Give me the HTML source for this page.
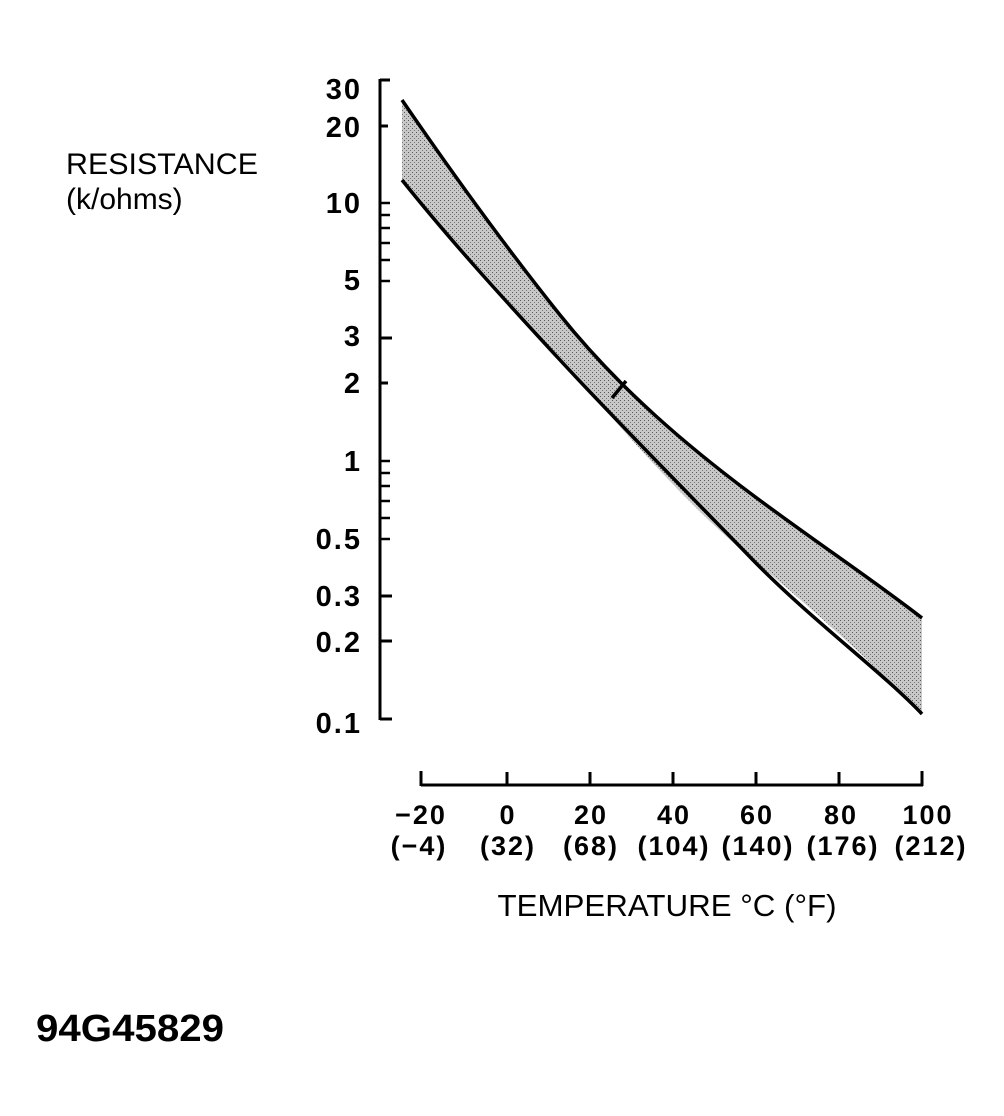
<!DOCTYPE html>
<html><head><style>
html,body{margin:0;padding:0;background:#fff;}
svg{display:block;}
text{font-family:"Liberation Sans",sans-serif;fill:#000;}
</style></head><body>
<svg width="1004" height="1116" viewBox="0 0 1004 1116">
<defs>
<pattern id="st" width="4" height="4" patternUnits="userSpaceOnUse">
<rect width="4" height="4" fill="#c8c8c8"/>
<rect x="0" y="0" width="1" height="1" fill="#555"/>
<rect x="2" y="2" width="1" height="1" fill="#777"/>
</pattern>
</defs>
<g stroke="#000" stroke-width="3" fill="none">
<line x1="380" y1="79" x2="380" y2="720"/>
<line x1="380" y1="80" x2="390" y2="80"/>
<line x1="380" y1="719" x2="392" y2="719"/>
<line x1="380" y1="126" x2="388" y2="126"/>
<line x1="380" y1="383" x2="388" y2="383"/>
<line x1="380" y1="338" x2="392" y2="338"/>
<line x1="380" y1="596" x2="392" y2="596"/>
<line x1="380" y1="641" x2="392" y2="641"/>
</g>
<g stroke="#000" stroke-width="2.5">
<line x1="380" y1="203" x2="390" y2="203"/>
<line x1="380" y1="215" x2="390" y2="215"/>
<line x1="380" y1="228" x2="390" y2="228"/>
<line x1="380" y1="243" x2="390" y2="243"/>
<line x1="380" y1="260" x2="390" y2="260"/>
<line x1="380" y1="281" x2="390" y2="281"/>
<line x1="380" y1="461" x2="390" y2="461"/>
<line x1="380" y1="473" x2="390" y2="473"/>
<line x1="380" y1="486" x2="390" y2="486"/>
<line x1="380" y1="501" x2="390" y2="501"/>
<line x1="380" y1="518" x2="390" y2="518"/>
<line x1="380" y1="539" x2="390" y2="539"/>
</g>
<g font-size="29" text-anchor="end" font-weight="bold" letter-spacing="2">
<text x="362" y="99">30</text>
<text x="362" y="137">20</text>
<text x="362" y="213">10</text>
<text x="362" y="290">5</text>
<text x="362" y="346">3</text>
<text x="362" y="393">2</text>
<text x="362" y="471">1</text>
<text x="362" y="549">0.5</text>
<text x="362" y="606">0.3</text>
<text x="362" y="652">0.2</text>
<text x="362" y="733">0.1</text>
</g>
<text x="66" y="174" font-size="30" textLength="192" lengthAdjust="spacingAndGlyphs">RESISTANCE</text>
<text x="66" y="209" font-size="30">(k/ohms)</text>
<path d="M402,100 C450,170 500,240 560,315 S690,448 750,493 S880,585 922,618 L922,714 C880,670 820,615 750,557 S620,425 560,360 S450,240 402,180 Z" fill="url(#st)"/>
<g stroke="#000" stroke-width="3.5" fill="none">
<path d="M402,100 C450,170 500,240 560,315 S690,448 750,493 S880,585 922,618"/>
<path d="M402,180 C450,240 500,295 560,360 S690,495 750,557 S880,670 922,714"/>
<line x1="612" y1="398" x2="626" y2="381"/>
</g>
<g stroke="#000" stroke-width="3">
<line x1="421" y1="785" x2="923" y2="785"/>
<line x1="421" y1="771" x2="421" y2="786"/>
<line x1="507" y1="772" x2="507" y2="786"/>
<line x1="590" y1="772" x2="590" y2="786"/>
<line x1="673" y1="772" x2="673" y2="786"/>
<line x1="756" y1="772" x2="756" y2="786"/>
<line x1="839" y1="772" x2="839" y2="786"/>
<line x1="922" y1="771" x2="922" y2="786"/>
</g>
<g font-size="27" text-anchor="middle" font-weight="bold" letter-spacing="2">
<text x="421" y="824">−20</text>
<text x="508" y="824">0</text>
<text x="591" y="824">20</text>
<text x="674" y="824">40</text>
<text x="757" y="824">60</text>
<text x="841" y="824">80</text>
<text x="928" y="824">100</text>
<text x="419" y="855">(−4)</text>
<text x="508" y="855">(32)</text>
<text x="591" y="855">(68)</text>
<text x="674" y="855">(104)</text>
<text x="758" y="855">(140)</text>
<text x="843" y="855">(176)</text>
<text x="931" y="855">(212)</text>
</g>
<text x="667" y="916" font-size="31" text-anchor="middle" textLength="339" lengthAdjust="spacingAndGlyphs">TEMPERATURE °C (°F)</text>
<text x="36" y="1041" font-size="38" font-weight="bold" textLength="188" lengthAdjust="spacingAndGlyphs">94G45829</text>
</svg>
</body></html>
